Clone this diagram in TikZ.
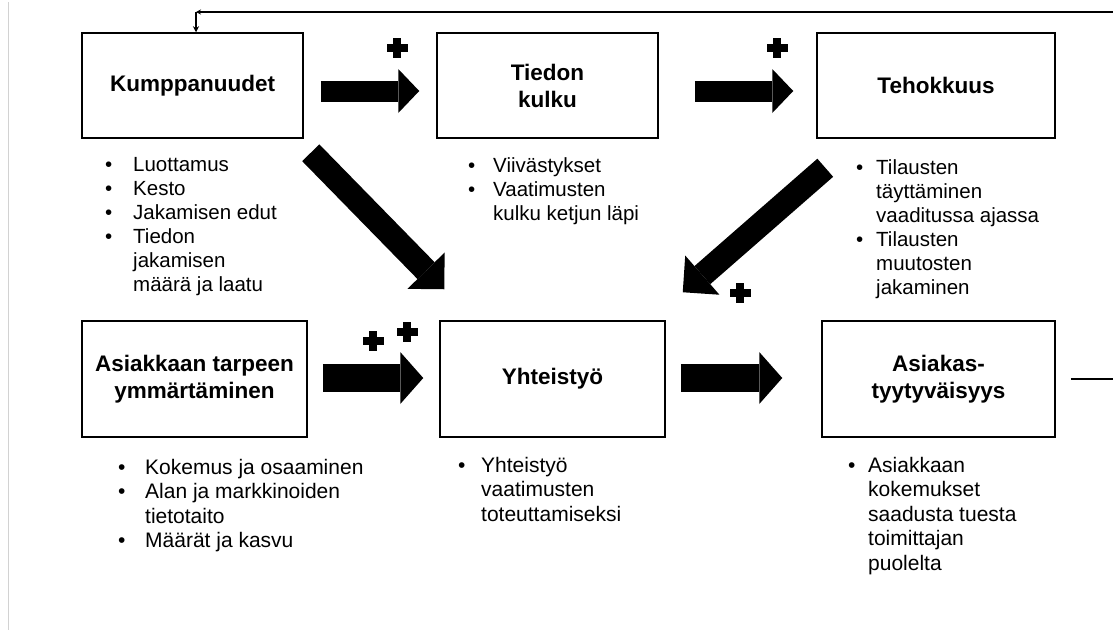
\documentclass[tikz,border=0pt]{standalone}
\usepackage{fontspec}
\setmainfont{Liberation Sans}
\usetikzlibrary{arrows.meta}
\newcommand{\bl}[1]{\makebox[#1][l]{\textbullet}}
\begin{document}
\begin{tikzpicture}[x=1pt,y=-1pt,
  box/.style={draw, line width=1.5pt, inner sep=0pt, align=center,
    font=\fontsize{22.5}{27}\selectfont\bfseries},
  toparrow/.style={line width=21pt, -{Triangle[length=21pt,width=44pt,line width=0pt]}},
  botarrow/.style={line width=28pt, -{Triangle[length=23pt,width=52pt,line width=0pt]}},
  diagarrow/.style={line width=24pt, -{Triangle[length=26pt,width=52pt,line width=0pt]}},
  fb/.style={line width=1.5pt},
  toplist/.style={anchor=north west, inner sep=0pt, align=left,
    font=\fontsize{20.5}{24}\selectfont},
  botlist/.style={anchor=north west, inner sep=0pt, align=left,
    font=\fontsize{21}{24.5}\selectfont},
  plussign/.pic={\fill (-10.5,-4) rectangle (10.5,4); \fill (-4,-10) rectangle (4,10);}
]
\useasboundingbox (0,0) rectangle (1113,630);
\fill[white] (0,0) rectangle (1113,630);
\draw[gray!35, line width=1pt] (8,2) -- (8,630);

% boxes
\node[box, minimum width=221pt, minimum height=105pt] (k) at (192.5,85.5) {Kumppanuudet};
\node[box, minimum width=221pt, minimum height=105pt] (t) at (547.5,85.5) {Tiedon\\kulku};
\node[box, minimum width=238pt, minimum height=105pt] (e) at (936,85.5) {Tehokkuus};
\node[box, minimum width=225pt, minimum height=116pt] (a) at (194.5,379) {Asiakkaan tarpeen\\ymmärtäminen};
\node[box, minimum width=225pt, minimum height=116pt] (y) at (552.5,379) {Yhteistyö};
\node[box, minimum width=233pt, minimum height=116pt] (s) at (938.5,379) {Asiakas-\\tyytyväisyys};

% block arrows
\draw[toparrow] ([shift={(17,5.5)}]k.east) -- ([shift={(-17,5.5)}]t.west);
\draw[toparrow] ([shift={(36,5.5)}]t.east) -- ([shift={(-23,5.5)}]e.west);
\draw[botarrow] ([shift={(15,-1)}]a.east) -- ([shift={(-16,-1)}]y.west);
\draw[botarrow] ([shift={(15,-1)}]y.east) -- ([shift={(-39,-1)}]s.west);
\draw[diagarrow] ([shift={(7,14)}]k.south east) -- ([shift={(5,-31)}]y.north west);
\draw[diagarrow] ([shift={(9,29)}]e.south west) -- ([shift={(17,-28)}]y.north east);

% plus signs
\pic at (397,48) {plussign};
\pic at (777,48) {plussign};
\pic at (740,293) {plussign};
\pic at (373,341) {plussign};
\pic at (407,332) {plussign};

% feedback connector
\coordinate (fbR) at (1113.6,12);
\coordinate (fbL) at (196,12);
\draw[fb, -{Stealth[length=5pt,width=5pt]}] ([xshift=15]s.east) -| (fbR) -- (fbL);
\draw[fb, -{Stealth[length=6pt,width=6pt]}] (fbL) -- ([xshift=3.5]k.north);

% lists
\node[toplist] (l1) at (105,157) {\bl{28pt}Luottamus\\ \bl{28pt}Kesto\\ \bl{28pt}Jakamisen edut\\ \bl{28pt}Tiedon\\ \hspace*{28pt}jakamisen\\ \hspace*{28pt}määrä ja laatu};
\node[toplist] (l2) at (468,157) {\bl{25pt}Viivästykset\\ \bl{25pt}Vaatimusten\\ \hspace*{25pt}kulku ketjun läpi};
\node[toplist] (l3) at (856,159) {\bl{20pt}Tilausten\\ \hspace*{20pt}täyttäminen\\ \hspace*{20pt}vaaditussa ajassa\\ \bl{20pt}Tilausten\\ \hspace*{20pt}muutosten\\ \hspace*{20pt}jakaminen};
\node[botlist] (l4) at (118,459) {\bl{27pt}Kokemus ja osaaminen\\ \bl{27pt}Alan ja markkinoiden\\ \hspace*{27pt}tietotaito\\ \bl{27pt}Määrät ja kasvu};
\node[botlist] (l5) at (458,457) {\bl{23pt}Yhteistyö\\ \hspace*{23pt}vaatimusten\\ \hspace*{23pt}toteuttamiseksi};
\node[botlist] (l6) at (848,457) {\bl{20pt}Asiakkaan\\ \hspace*{20pt}kokemukset\\ \hspace*{20pt}saadusta tuesta\\ \hspace*{20pt}toimittajan\\ \hspace*{20pt}puolelta};
\end{tikzpicture}
\end{document}
